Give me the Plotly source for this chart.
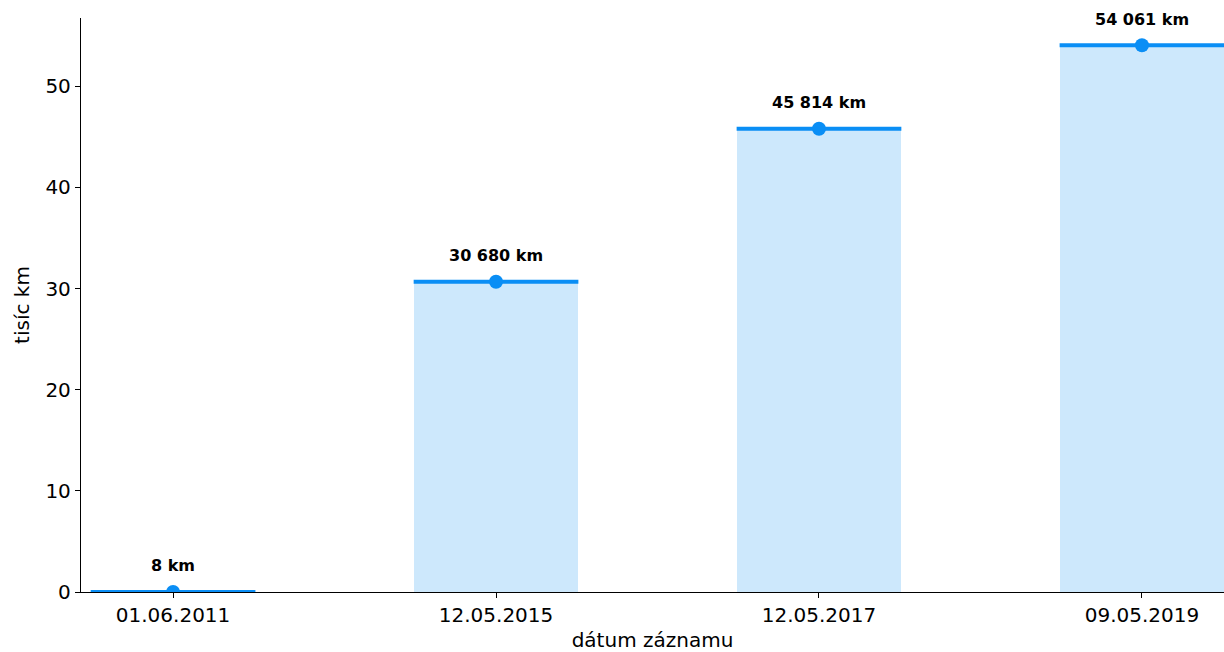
import plotly.graph_objects as go

dates = ["01.06.2011", "12.05.2015", "12.05.2017", "09.05.2019"]
km = [8, 30680, 45814, 54061]
labels = ["8 km", "30 680 km", "45 814 km", "54 061 km"]

vals = [v / 1000 for v in km]
xs = list(range(len(dates)))
bw = 0.51

fig = go.Figure()
fig.add_trace(go.Bar(x=xs, y=vals, width=bw, marker=dict(color="#cde8fc", line=dict(width=0)),
                     hoverinfo="skip", showlegend=False))
for i, v in zip(xs, vals):
    fig.add_trace(go.Scatter(x=[i - bw / 2, i + bw / 2], y=[v, v], mode="lines",
                             line=dict(color="#0a8ef5", width=4), showlegend=False, hoverinfo="skip"))
fig.add_trace(go.Scatter(x=xs, y=vals, mode="markers",
                         marker=dict(color="#0a8ef5", size=14), showlegend=False))
for i, v, t in zip(xs, vals, labels):
    fig.add_annotation(x=i, y=v, text="<b>" + t + "</b>", showarrow=False, yshift=26,
                       font=dict(size=16, color="black", family="DejaVu Sans"))

fig.update_layout(
    width=1224, height=652, plot_bgcolor="white", paper_bgcolor="white",
    margin=dict(l=81, r=0, t=18, b=60, pad=0, autoexpand=False),
    font=dict(family="DejaVu Sans", size=20, color="black"),
    bargap=0,
)
fig.update_xaxes(range=[-0.285, 3.254], tickvals=xs, ticktext=dates, showline=True,
                 linecolor="black", linewidth=1.3, ticks="outside", ticklen=5, tickcolor="black",
                 showgrid=False, zeroline=False, automargin=False,
                 title=dict(text="dátum záznamu", standoff=11, font=dict(size=20)))
fig.update_yaxes(range=[0, 56.76], tickvals=[0, 10, 20, 30, 40, 50], showline=True,
                 linecolor="black", linewidth=1.3, ticks="outside", ticklen=5, tickcolor="black",
                 showgrid=False, zeroline=False, automargin=False,
                 title=dict(text="tisíc km", standoff=10, font=dict(size=20)))
fig.write_html("out.html", config={"displayModeBar": False},
               post_script="document.body.style.margin='0';document.body.style.overflow='hidden';")
